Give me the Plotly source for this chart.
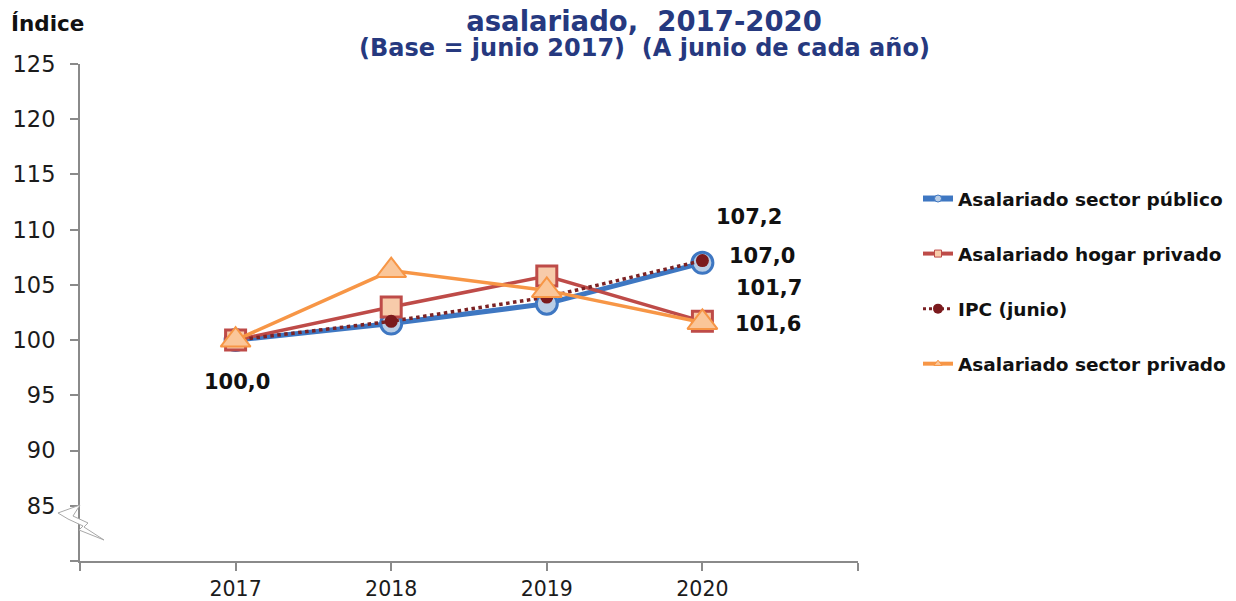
import plotly.graph_objects as go

# ---- data ----
years = [2017, 2018, 2019, 2020]
publico = [100.0, 101.5, 103.3, 107.0]
hogar = [100.0, 103.0, 105.8, 101.7]
ipc = [100.0, 101.7, 103.9, 107.2]
privado = [100.0, 106.3, 104.5, 101.6]
names = ["Asalariado sector público", "Asalariado hogar privado", "IPC (junio)", "Asalariado sector privado"]
y_ticks = [85, 90, 95, 100, 105, 110, 115, 120, 125]

FONT = "DejaVu Sans"
AXIS_COL = "#8A8A8A"
OFF = 8  # page body margin in the browser
FW, FH = 1236 - OFF, 601 - OFF

def fmt(v):
    return f"{v:.1f}".replace(".", ",")

fig = go.Figure()

# main series (no legend)
fig.add_trace(go.Scatter(x=years, y=publico, mode="lines+markers", showlegend=False,
                         line=dict(color="#3E77C2", width=5),
                         marker=dict(symbol="circle", size=21, color="#B9CDE5",
                                     line=dict(color="#3E77C2", width=3))))
fig.add_trace(go.Scatter(x=years, y=hogar, mode="lines+markers", showlegend=False,
                         line=dict(color="#BE4B48", width=3.5),
                         marker=dict(symbol="square", size=20, color="#F7CBAA",
                                     line=dict(color="#BE4B48", width=3))))
fig.add_trace(go.Scatter(x=years, y=ipc, mode="lines+markers", showlegend=False,
                         line=dict(color="#7B2224", width=3.5, dash="dot"),
                         marker=dict(symbol="circle", size=13, color="#7B1A1D")))
fig.add_trace(go.Scatter(x=years, y=privado, mode="lines+markers", showlegend=False,
                         line=dict(color="#F79646", width=3.5),
                         marker=dict(symbol="triangle-up", size=26, color="#FAC699",
                                     line=dict(color="#F79646", width=2))))

# legend-only entries
leg_styles = [
    dict(line=dict(color="#3E77C2", width=6), marker=dict(symbol="circle", size=7, color="#B9CDE5", line=dict(color="#3E77C2", width=1))),
    dict(line=dict(color="#BE4B48", width=4), marker=dict(symbol="square", size=7, color="#F7CBAA", line=dict(color="#BE4B48", width=1))),
    dict(line=dict(color="#7B2224", width=3, dash="dot"), marker=dict(symbol="circle", size=10, color="#7B1A1D")),
    dict(line=dict(color="#F79646", width=4), marker=dict(symbol="triangle-up", size=7, color="#FAC699", line=dict(color="#F79646", width=1))),
]
for i, (nm, st) in enumerate(zip(names, leg_styles)):
    fig.add_trace(go.Scatter(x=[None], y=[None], mode="lines+markers", name=nm,
                             legendgroup=f"g{i}", **st))

# data labels
lab_font = dict(family=FONT, size=21, color="#111111", weight="bold")
labels = [
    (years[-1], ipc[-1], fmt(ipc[-1]), 47, 44),
    (years[-1], publico[-1], fmt(publico[-1]), 60, 7),
    (years[-1], hogar[-1], fmt(hogar[-1]), 67, 33),
    (years[-1], privado[-1], fmt(privado[-1]), 66, -2),
    (years[0], publico[0], fmt(publico[0]), 1, -42),
]
for x, y, t, dx, dy in labels:
    fig.add_annotation(x=x, y=y, text=t, showarrow=False, xshift=dx, yshift=dy,
                       xanchor="center", yanchor="middle", font=lab_font)

# plot area geometry (screen pixels -> figure pixels)
L, R, T, B = 80 - OFF, 858 - OFF, 64 - OFF, 561 - OFF
W, H = R - L, B - T

def px(x):
    return (x - OFF - L) / W

def py(y):
    return (B - (y - OFF)) / H

# subtitle and axis title
fig.add_annotation(xref="paper", yref="paper", x=px(644), y=py(48),
                   xanchor="center", yanchor="middle",
                   text="(Base = junio 2017)  (A junio de cada año)", showarrow=False,
                   font=dict(family=FONT, size=24, color="#26397F", weight="bold"))
fig.add_annotation(xref="paper", yref="paper", x=px(9), y=py(24),
                   xanchor="left", yanchor="middle",
                   text="Índice", showarrow=False,
                   font=dict(family=FONT, size=21.5, color="#111111", weight="bold"))

# axis break symbol
pts = [(58, 513), (80, 505), (73, 516), (88, 523), (84, 527), (104, 540),
       (79, 530), (83, 526), (68, 519)]
path = "M" + " L".join(f"{px(a):.4f},{py(b):.4f}" for a, b in pts) + " Z"
fig.add_shape(type="path", xref="paper", yref="paper", path=path,
              fillcolor="white", line=dict(color="#A8A8A8", width=1), layer="above")

fig.update_layout(
    width=FW, height=FH,
    margin=dict(l=L, r=FW - R, t=T, b=FH - B, autoexpand=False),
    paper_bgcolor="white", plot_bgcolor="white",
    title=dict(text="<b>asalariado,\u00a0 2017-2020</b>", x=(644 - OFF) / FW, xanchor="center",
               y=1 - (21 - OFF) / FH, yanchor="middle", yref="container",
               font=dict(family=FONT, size=27.5, color="#26397F")),
    legend=dict(x=(918 - OFF) / FW, xref="container", y=1 - (180 - OFF) / FH, yref="container",
                yanchor="top", xanchor="left", tracegroupgap=28,
                font=dict(family=FONT, size=18.5, color="#111111", weight="bold"),
                bgcolor="rgba(0,0,0,0)"),
    xaxis=dict(range=[2016, 2021], tickvals=[2016, 2017, 2018, 2019, 2020, 2021],
               ticktext=["", "2017", "2018", "2019", "2020", ""],
               ticks="outside", ticklen=8, tickcolor=AXIS_COL, tickwidth=2,
               showline=True, linecolor=AXIS_COL, linewidth=2, showgrid=False,
               zeroline=False, tickfont=dict(family=FONT, size=20.5, color="#1B1B1B"),
               ticklabelstandoff=0),
    yaxis=dict(range=[80, 125], tickvals=[80] + y_ticks,
               ticktext=[""] + [str(v) for v in y_ticks],
               ticks="outside", ticklen=8, tickcolor=AXIS_COL, tickwidth=2,
               showline=True, linecolor=AXIS_COL, linewidth=2, showgrid=False,
               zeroline=False, tickfont=dict(family=FONT, size=22.5, color="#1B1B1B"),
               ticklabelstandoff=10),
)

fig.write_html("out.html")
